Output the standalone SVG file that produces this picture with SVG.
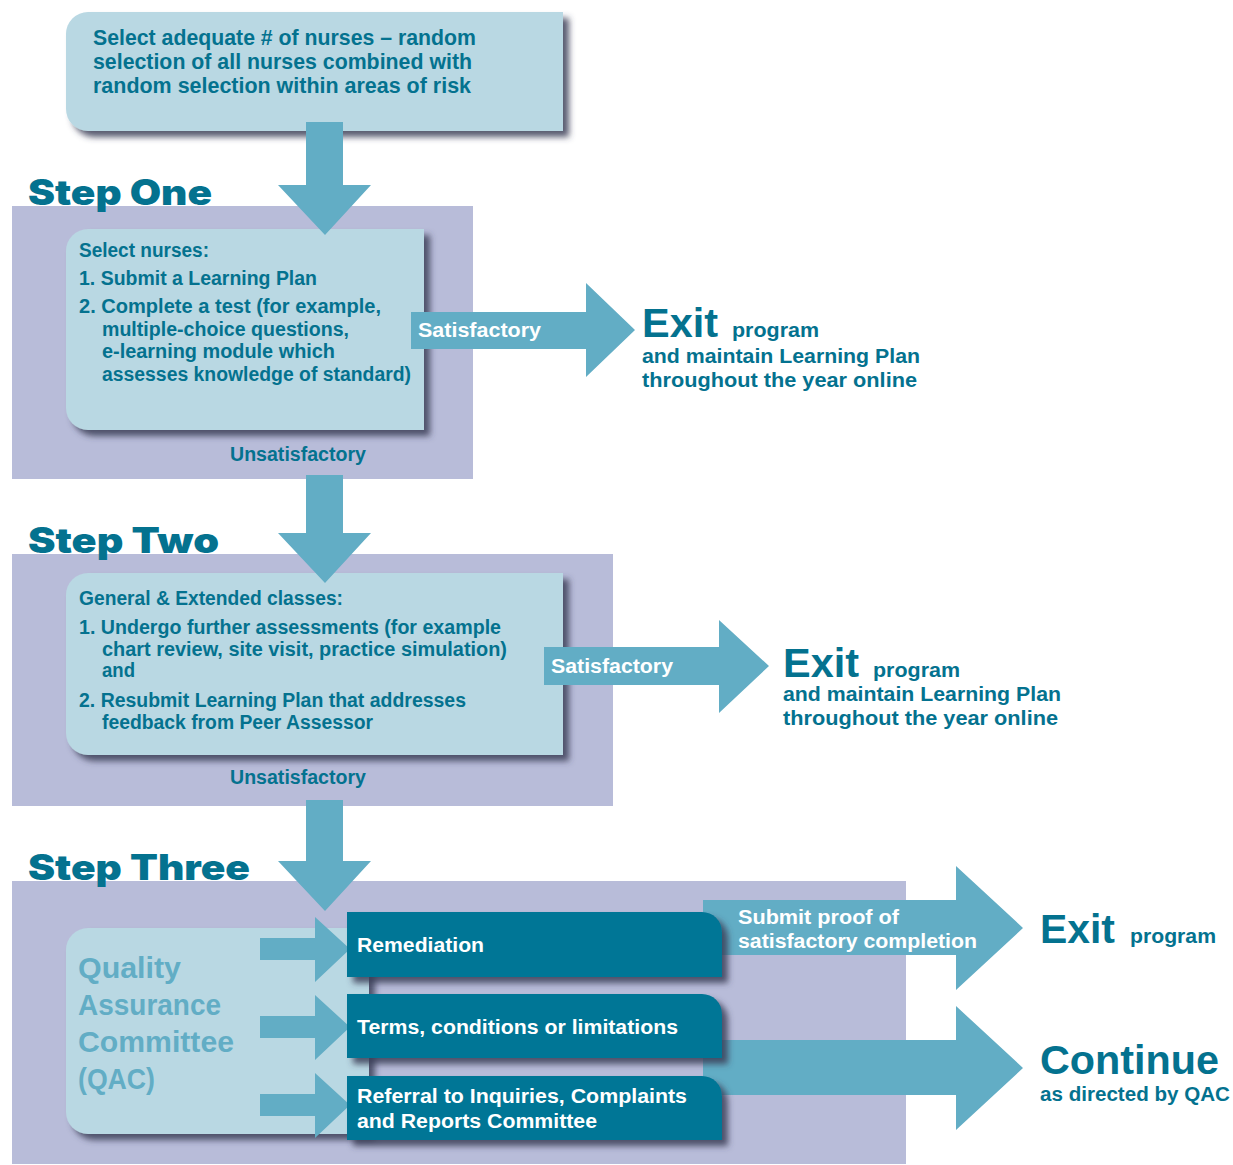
<svg xmlns="http://www.w3.org/2000/svg" width="1233" height="1165" viewBox="0 0 1233 1165">
<defs>
<filter id="sh" x="-10%" y="-10%" width="130%" height="140%">
<feGaussianBlur in="SourceAlpha" stdDeviation="3"/>
<feOffset dx="6" dy="6" result="b"/>
<feFlood flood-color="#3b3e57" flood-opacity="0.85"/>
<feComposite in2="b" operator="in"/>
<feMerge><feMergeNode/><feMergeNode in="SourceGraphic"/></feMerge>
</filter>
<style>
.panel{fill:#b8bcd9}
.lbox{fill:#b9d8e3}
.dbox{fill:#007696}
.arrow{fill:#62adc5}
.t{font-family:"Liberation Sans",Arial,sans-serif;font-weight:bold;fill:#04728f}
.w{font-family:"Liberation Sans",Arial,sans-serif;font-weight:bold;fill:#ffffff}
.h{font-family:Inter,"DejaVu Sans",sans-serif;font-weight:900;fill:#04728f;font-size:35px}
.q{font-family:"Liberation Sans",Arial,sans-serif;font-weight:bold;fill:#62adc5;font-size:30px}
.top{font-size:21.5px}
.b{font-size:19.5px}
.lab{font-size:20px}
.exit{font-size:41px}
.sub{font-size:21px}
</style>
</defs>
<rect width="1233" height="1165" fill="#ffffff"/>

<g id="panels">
<rect class="panel" x="12" y="206" width="461" height="273"/>
<rect class="panel" x="12" y="554" width="601" height="252"/>
<rect class="panel" x="12" y="881" width="894" height="283"/>
</g>

<g id="headings">
<text class="h" x="28" y="205" textLength="184" lengthAdjust="spacingAndGlyphs">Step One</text>
<text class="h" x="28" y="553" textLength="191" lengthAdjust="spacingAndGlyphs">Step Two</text>
<text class="h" x="28" y="880" textLength="222" lengthAdjust="spacingAndGlyphs">Step Three</text>
</g>

<g id="select-nurses">
<path class="lbox" filter="url(#sh)" d="M88,12 H563 V131 H88 A22,22 0 0 1 66,109 V34 A22,22 0 0 1 88,12 Z"/>
<text class="t top" x="93" y="45" textLength="383" lengthAdjust="spacingAndGlyphs">Select adequate # of nurses – random</text>
<text class="t top" x="93" y="69" textLength="379" lengthAdjust="spacingAndGlyphs">selection of all nurses combined with</text>
<text class="t top" x="93" y="93" textLength="378" lengthAdjust="spacingAndGlyphs">random selection within areas of risk</text>
</g>

<g id="step-one">
<path class="lbox" filter="url(#sh)" d="M88,229 H424 V430 H88 A22,22 0 0 1 66,408 V251 A22,22 0 0 1 88,229 Z"/>
<text class="t b" x="79" y="257" textLength="130" lengthAdjust="spacingAndGlyphs">Select nurses:</text>
<text class="t b" x="79" y="285" textLength="238" lengthAdjust="spacingAndGlyphs">1. Submit a Learning Plan</text>
<text class="t b" x="79" y="313" textLength="302" lengthAdjust="spacingAndGlyphs">2. Complete a test (for example,</text>
<text class="t b" x="102" y="336" textLength="247" lengthAdjust="spacingAndGlyphs">multiple-choice questions,</text>
<text class="t b" x="102" y="358" textLength="233" lengthAdjust="spacingAndGlyphs">e-learning module which</text>
<text class="t b" x="102" y="381" textLength="309" lengthAdjust="spacingAndGlyphs">assesses knowledge of standard)</text>
<text class="t b" x="230" y="461" textLength="136" lengthAdjust="spacingAndGlyphs">Unsatisfactory</text>
</g>

<g id="step-two">
<path class="lbox" filter="url(#sh)" d="M88,573 H563 V755 H88 A22,22 0 0 1 66,733 V595 A22,22 0 0 1 88,573 Z"/>
<text class="t b" x="79" y="605" textLength="264" lengthAdjust="spacingAndGlyphs">General &amp; Extended classes:</text>
<text class="t b" x="79" y="634" textLength="422" lengthAdjust="spacingAndGlyphs">1. Undergo further assessments (for example</text>
<text class="t b" x="102" y="656" textLength="405" lengthAdjust="spacingAndGlyphs">chart review, site visit, practice simulation)</text>
<text class="t b" x="102" y="677" textLength="33" lengthAdjust="spacingAndGlyphs">and</text>
<text class="t b" x="79" y="707" textLength="387" lengthAdjust="spacingAndGlyphs">2. Resubmit Learning Plan that addresses</text>
<text class="t b" x="102" y="729" textLength="271" lengthAdjust="spacingAndGlyphs">feedback from Peer Assessor</text>
<text class="t b" x="230" y="784" textLength="136" lengthAdjust="spacingAndGlyphs">Unsatisfactory</text>
</g>

<g id="qac">
<path class="lbox" filter="url(#sh)" d="M88,928 H369 V1134 H88 A22,22 0 0 1 66,1112 V950 A22,22 0 0 1 88,928 Z"/>
<text class="q" x="78" y="978" textLength="103" lengthAdjust="spacingAndGlyphs">Quality</text>
<text class="q" x="78" y="1015" textLength="143" lengthAdjust="spacingAndGlyphs">Assurance</text>
<text class="q" x="78" y="1052" textLength="156" lengthAdjust="spacingAndGlyphs">Committee</text>
<text class="q" x="78" y="1089" textLength="77" lengthAdjust="spacingAndGlyphs">(QAC)</text>
</g>

<g id="connectors">
<path class="arrow" d="M306,122 H343 V185 H371 L325,235 L278,185 H306 Z"/>
<path class="arrow" d="M306,475 H343 V533 H371 L325,583 L278,533 H306 Z"/>
<path class="arrow" d="M306,800 H343 V861 H371 L325,911 L278,861 H306 Z"/>
<path class="arrow" d="M411,312 H586 V283 L635,330 L586,377 V349 H411 Z"/>
<text class="w lab" x="418" y="337" textLength="123" lengthAdjust="spacingAndGlyphs">Satisfactory</text>
<path class="arrow" d="M544,647 H719 V620 L769,666 L719,713 V685 H544 Z"/>
<text class="w lab" x="551" y="673" textLength="122" lengthAdjust="spacingAndGlyphs">Satisfactory</text>
<path class="arrow" d="M260,938 H315 V917 L350,949 L315,982 V960 H260 Z"/>
<path class="arrow" d="M260,1016 H315 V995 L350,1027 L315,1060 V1038 H260 Z"/>
<path class="arrow" d="M260,1094 H315 V1073 L350,1105 L315,1138 V1116 H260 Z"/>
<path class="arrow" d="M703,900 H956 V866 L1023,928 L956,990 V955 H703 Z"/>
<text class="w lab" x="738" y="924" textLength="161" lengthAdjust="spacingAndGlyphs">Submit proof of</text>
<text class="w lab" x="738" y="948" textLength="239" lengthAdjust="spacingAndGlyphs">satisfactory completion</text>
<path class="arrow" d="M703,1040 H956 V1006 L1023,1068 L956,1130 V1095 H703 Z"/>
</g>

<g id="remediation">
<path class="dbox" filter="url(#sh)" d="M347,912 H702 A20,20 0 0 1 722,932 V977 H347 Z"/>
<text class="w lab" x="357" y="952" textLength="127" lengthAdjust="spacingAndGlyphs">Remediation</text>
</g>
<g id="terms">
<path class="dbox" filter="url(#sh)" d="M347,994 H702 A20,20 0 0 1 722,1014 V1058 H347 Z"/>
<text class="w lab" x="357" y="1034" textLength="321" lengthAdjust="spacingAndGlyphs">Terms, conditions or limitations</text>
</g>
<g id="referral">
<path class="dbox" filter="url(#sh)" d="M347,1076 H702 A20,20 0 0 1 722,1096 V1140 H347 Z"/>
<text class="w lab" x="357" y="1103" textLength="330" lengthAdjust="spacingAndGlyphs">Referral to Inquiries, Complaints</text>
<text class="w lab" x="357" y="1128" textLength="240" lengthAdjust="spacingAndGlyphs">and Reports Committee</text>
</g>

<g id="exit-1">
<text class="t exit" x="642" y="337" textLength="76" lengthAdjust="spacingAndGlyphs">Exit</text>
<text class="t sub" x="732" y="337" textLength="87" lengthAdjust="spacingAndGlyphs">program</text>
<text class="t sub" x="642" y="363" textLength="278" lengthAdjust="spacingAndGlyphs">and maintain Learning Plan</text>
<text class="t sub" x="642" y="387" textLength="275" lengthAdjust="spacingAndGlyphs">throughout the year online</text>
</g>
<g id="exit-2">
<text class="t exit" x="783" y="677" textLength="76" lengthAdjust="spacingAndGlyphs">Exit</text>
<text class="t sub" x="873" y="677" textLength="87" lengthAdjust="spacingAndGlyphs">program</text>
<text class="t sub" x="783" y="701" textLength="278" lengthAdjust="spacingAndGlyphs">and maintain Learning Plan</text>
<text class="t sub" x="783" y="725" textLength="275" lengthAdjust="spacingAndGlyphs">throughout the year online</text>
</g>
<g id="exit-3">
<text class="t exit" x="1040" y="943" textLength="75" lengthAdjust="spacingAndGlyphs">Exit</text>
<text class="t sub" x="1130" y="943" textLength="86" lengthAdjust="spacingAndGlyphs">program</text>
</g>
<g id="continue">
<text class="t" x="1040" y="1074" font-size="40" textLength="179" lengthAdjust="spacingAndGlyphs">Continue</text>
<text class="t" x="1040" y="1101" font-size="20" textLength="190" lengthAdjust="spacingAndGlyphs">as directed by QAC</text>
</g>
</svg>
